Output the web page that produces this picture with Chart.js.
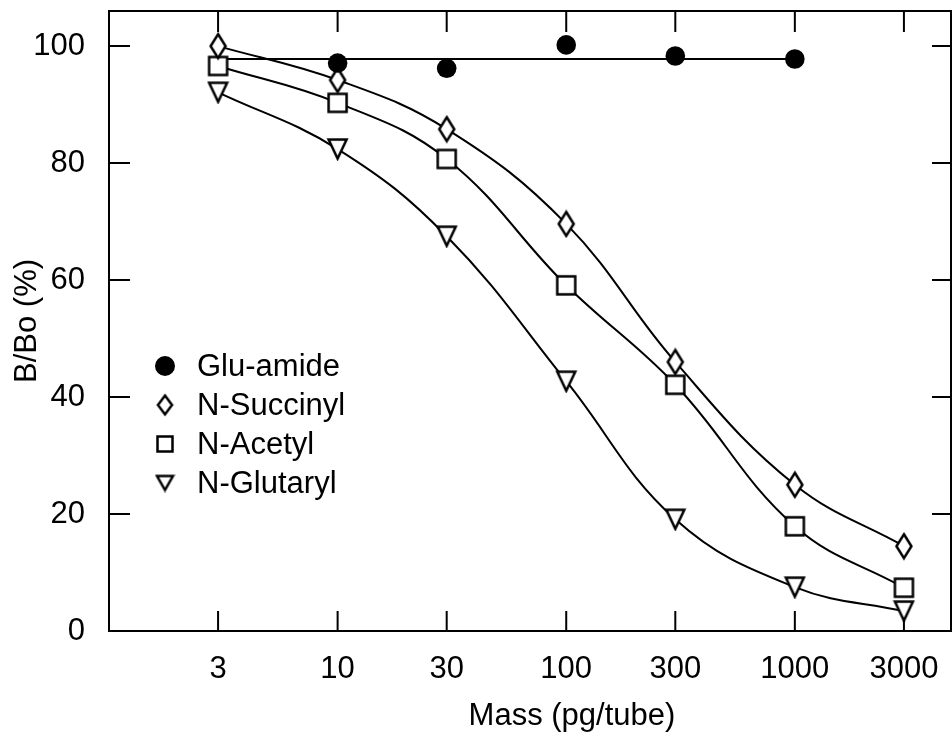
<!DOCTYPE html>
<html>
<head>
<meta charset="utf-8">
<script src="https://cdn.jsdelivr.net/npm/chart.js@4/dist/chart.umd.min.js"></script>
<style>
  body { margin: 0; background: #fff; }
</style>
</head>
<body>
<canvas id="myChart" width="952" height="738"></canvas>
<script>
// values
const xTicks = [3, 10, 30, 100, 300, 1000, 3000];
const yTicks = [0, 20, 40, 60, 80, 100];
const massX = [3, 10, 30, 100, 300, 1000, 3000];
const gluX = [10, 30, 100, 300, 1000];
const gluY = [97.1, 96.2, 100.2, 98.3, 97.8];
const gluFitX = [3, 1000];
const gluFitY = [97.8, 97.8];
const succinylY = [100.0, 94.2, 85.8, 69.6, 46.0, 25.0, 14.5];
const acetylY = [96.6, 90.3, 80.7, 59.1, 42.1, 17.9, 7.4];
const glutarylY = [92.1, 82.4, 67.5, 42.7, 19.1, 7.5, 3.4];
const legendLabels = ["Glu-amide", "N-Succinyl", "N-Acetyl", "N-Glutaryl"];

const FONT = '"Liberation Sans", Arial, Helvetica, sans-serif';
Chart.defaults.font.family = FONT;
Chart.defaults.font.size = 31;
Chart.defaults.color = "#000";

const pts = (xs, ys) => xs.map((x, i) => ({ x: x, y: ys[i] }));

function makeMarker(shape, w, h) {
  const c = document.createElement("canvas");
  c.width = w + 5;
  c.height = h + 5;
  const g = c.getContext("2d");
  const cx = c.width / 2, cy = c.height / 2;
  g.lineWidth = 2.5;
  g.strokeStyle = "#000";
  g.fillStyle = "#fff";
  g.beginPath();
  if (shape === "diamond") {
    g.moveTo(cx, cy - h / 2);
    g.lineTo(cx + w / 2, cy);
    g.lineTo(cx, cy + h / 2);
    g.lineTo(cx - w / 2, cy);
  } else if (shape === "square") {
    g.rect(cx - w / 2, cy - h / 2, w, h);
  } else {
    g.moveTo(cx - w / 2, cy - h / 2);
    g.lineTo(cx + w / 2, cy - h / 2);
    g.lineTo(cx, cy + h / 2);
  }
  g.closePath();
  g.fill();
  g.stroke();
  return c;
}

const diamond = makeMarker("diamond", 15, 24);
const square = makeMarker("square", 18, 18);
const triangle = makeMarker("tri", 18, 19);
const legendMarks = [
  null,
  makeMarker("diamond", 14, 19),
  makeMarker("square", 15, 15),
  makeMarker("tri", 16, 14)
];

function curve(label, ys, marker) {
  return {
    label: label,
    data: pts(massX, ys),
    borderColor: "#000",
    borderWidth: 2,
    tension: 0.4,
    pointStyle: marker,
    pointRadius: 10,
    fill: false
  };
}

// frame with inward ticks on all four sides, plus the x title and legend
const framePlugin = {
  id: "frame",
  beforeDatasetsDraw(chart) {
    const { ctx, chartArea: a, scales } = chart;
    ctx.save();
    ctx.strokeStyle = "#000";
    ctx.lineWidth = 2;
    ctx.strokeRect(a.left, a.top, a.right - a.left, a.bottom - a.top);
    ctx.beginPath();
    xTicks.forEach((v) => {
      const px = scales.x.getPixelForValue(v);
      ctx.moveTo(px, a.bottom);
      ctx.lineTo(px, a.bottom - 20);
      ctx.moveTo(px, a.top);
      ctx.lineTo(px, a.top + 21);
    });
    yTicks.forEach((v) => {
      const py = scales.y.getPixelForValue(v);
      ctx.moveTo(a.left, py);
      ctx.lineTo(a.left + 21, py);
      ctx.moveTo(a.right, py);
      ctx.lineTo(a.right - 19, py);
    });
    ctx.stroke();
    ctx.restore();
  },
  afterDraw(chart) {
    const ctx = chart.ctx;
    ctx.save();
    ctx.font = "31px " + FONT;
    ctx.fillStyle = "#000";
    ctx.textBaseline = "middle";
    ctx.textAlign = "center";
    ctx.fillText("Mass (pg/tube)", 572, 716);
    ctx.textAlign = "left";
    legendLabels.forEach((lab, i) => {
      const y = 366 + i * 39;
      if (i === 0) {
        ctx.beginPath();
        ctx.arc(165, y, 10, 0, Math.PI * 2);
        ctx.fill();
      } else {
        const m = legendMarks[i];
        ctx.drawImage(m, 165 - m.width / 2, y - m.height / 2);
      }
      ctx.fillText(lab, 197, y + 1);
    });
    ctx.restore();
  }
};

new Chart(document.getElementById("myChart").getContext("2d"), {
  type: "line",
  data: {
    datasets: [
      {
        label: "Glu-amide",
        data: pts(gluX, gluY),
        showLine: false,
        pointStyle: "circle",
        pointRadius: 9.8,
        pointBackgroundColor: "#000",
        pointBorderWidth: 0
      },
      curve("N-Succinyl", succinylY, diamond),
      curve("N-Acetyl", acetylY, square),
      curve("N-Glutaryl", glutarylY, triangle),
      {
        label: "Glu-amide fit",
        data: pts(gluFitX, gluFitY),
        borderColor: "#000",
        borderWidth: 2,
        pointRadius: 0
      }
    ]
  },
  options: {
    responsive: false,
    devicePixelRatio: 1,
    animation: false,
    events: [],
    layout: { autoPadding: false, padding: { top: 11, right: 1, left: 0, bottom: 0 } },
    plugins: { legend: { display: false }, tooltip: { enabled: false } },
    scales: {
      x: {
        type: "logarithmic",
        position: "bottom",
        min: 1,
        max: 4820,
        grid: { display: false },
        border: { display: false },
        afterBuildTicks: (scale) => {
          scale.ticks = xTicks.map((v) => ({ value: v }));
        },
        afterFit: (scale) => {
          scale.height = 107;
          scale.paddingLeft = 0;
          scale.paddingRight = 0;
        },
        ticks: {
          autoSkip: false,
          maxRotation: 0,
          padding: 12,
          callback: (value) => String(value)
        }
      },
      y: {
        min: 0,
        max: 106,
        grid: { display: false },
        border: { display: false },
        afterBuildTicks: (scale) => {
          scale.ticks = yTicks.map((v) => ({ value: v }));
        },
        afterFit: (scale) => {
          scale.width = 109;
          scale.paddingTop = 0;
          scale.paddingBottom = 0;
        },
        ticks: { padding: 16, callback: (value) => String(value) },
        title: {
          display: true,
          text: "B/Bo (%)",
          padding: { top: 9, bottom: 0 }
        }
      }
    }
  },
  plugins: [framePlugin]
});
</script>
</body>
</html>
